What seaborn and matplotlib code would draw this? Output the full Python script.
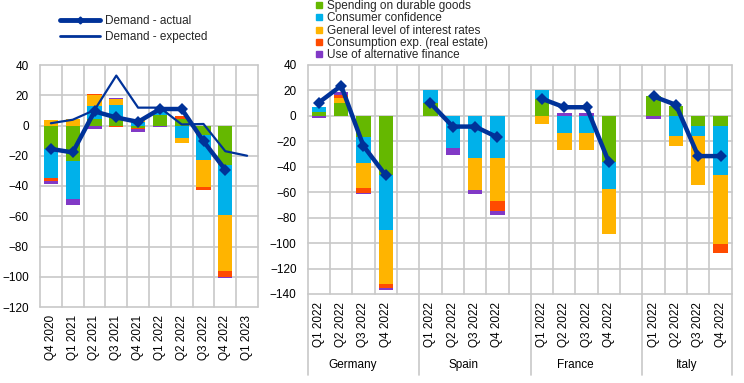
import numpy as np
import pandas as pd
import matplotlib
matplotlib.use("Agg")
import matplotlib.pyplot as plt
from matplotlib.lines import Line2D
import seaborn as sns

# ---------------- data ----------------
left_periods = ["Q4 2020", "Q1 2021", "Q2 2021", "Q3 2021", "Q4 2021",
                "Q1 2022", "Q2 2022", "Q3 2022", "Q4 2022", "Q1 2023"]
nan = np.nan
left_durable     = [-15.5, -23.3, 4.4, 4.8, -1.8, 7.0, 4.5, -6.0, -26.0, nan]
left_confidence  = [-19.5, -25.1, 8.3, 8.8, 2.5, 2.5, -8.0, -16.5, -33.5, nan]
left_interest    = [3.4, 4.4, 7.3, 4.0, 2.0, 0.0, -3.5, -18.0, -36.7, nan]
left_real_estate = [-2.0, 0.0, 1.1, -0.8, -0.8, 0.0, 1.5, -2.0, -4.0, nan]
left_alt_finance = [-1.4, -4.3, -2.4, 0.9, -1.6, -1.3, 0.0, -0.4, -0.5, nan]
left_actual      = [-15.5, -17.8, 9.3, 5.3, 2.4, 10.9, 10.9, -10.4, -29.3, nan]
left_expected    = [1.5, 3.8, 10.2, 33.0, 11.8, 11.8, 0.7, 1.0, -17.0, -20.0]

countries = ["Germany", "Spain", "France", "Italy"]
quarters = ["Q1 2022", "Q2 2022", "Q3 2022", "Q4 2022"]
cty_durable = {
    "Germany": [3.2, 10.0, -16.8, -46.6],
    "Spain":   [10.0, 0.0, 0.0, 0.0],
    "France":  [13.4, 0.0, 0.0, -36.0],
    "Italy":   [15.3, 7.6, -7.9, -7.9],
}
cty_confidence = {
    "Germany": [3.4, 0.0, -20.6, -43.4],
    "Spain":   [10.0, -25.5, -33.4, -33.4],
    "France":  [6.6, -13.7, -13.7, -21.6],
    "Italy":   [0.0, -15.8, -7.9, -38.7],
}
cty_interest = {
    "Germany": [0.0, 3.7, -19.6, -42.3],
    "Spain":   [0.0, 0.0, -25.0, -33.4],
    "France":  [-6.6, -13.1, -13.1, -35.6],
    "Italy":   [0.0, -7.6, -38.2, -54.4],
}
cty_real_estate = {
    "Germany": [0.0, 3.1, -3.5, -3.2],
    "Spain":   [0.0, 0.0, 0.0, -7.7],
    "France":  [0.0, 0.0, 0.0, 0.0],
    "Italy":   [0.0, 0.0, 0.0, -6.5],
}
cty_alt_finance = {
    "Germany": [-1.3, 2.2, -1.1, -1.3],
    "Spain":   [0.0, -5.3, -3.2, -3.4],
    "France":  [0.0, 2.1, 2.1, 0.0],
    "Italy":   [-2.6, 0.0, 0.0, 0.0],
}
cty_actual = {
    "Germany": [10.5, 23.7, -23.7, -46.8],
    "Spain":   [10.0, -8.4, -8.4, -16.8],
    "France":  [13.4, 6.8, 6.8, -36.6],
    "Italy":   [15.3, 8.7, -31.6, -31.6],
}

component_names = ["Spending on durable goods", "Consumer confidence",
                   "General level of interest rates",
                   "Consumption exp. (real estate)", "Use of alternative finance"]
component_colors = ["#65B800", "#00B1EA", "#FFB400", "#FF4B00", "#8139C6"]
line_color = "#003299"
grid_color = "#c8c8c8"

# ---------------- style ----------------
sns.set_theme(style="white")
plt.rcParams['font.family'] = ['Liberation Sans', 'DejaVu Sans']
FS = 8.5

fig = plt.figure(figsize=(7.44, 3.83), dpi=100)
axL = fig.add_axes([40 / 744, 1 - 307 / 383, 218 / 744, 242 / 383])
axR = fig.add_axes([307.7 / 744, 1 - 294 / 383, 424 / 744, 229 / 383])

BAR_W = 0.65


def stacked(ax, x, comps):
    x = np.asarray(x, dtype=float)
    pos = np.zeros(len(x))
    neg = np.zeros(len(x))
    for vals, col in zip(comps, component_colors):
        v = np.nan_to_num(np.asarray(vals, dtype=float))
        bottom = np.where(v >= 0, pos, neg)
        ax.bar(x, v, bottom=bottom, width=BAR_W, color=col, linewidth=0, zorder=2)
        pos = pos + np.where(v > 0, v, 0)
        neg = neg + np.where(v < 0, v, 0)


def grid_lines(ax, xbounds, yticks):
    for xb in xbounds:
        ax.axvline(xb, color=grid_color, lw=1.2, zorder=1, clip_on=False)
    for yt in yticks:
        ax.axhline(yt, color=grid_color, lw=1.2, zorder=1, clip_on=False)


# ---------------- left panel ----------------
xl = np.arange(len(left_periods))
stacked(axL, xl, [left_durable, left_confidence, left_interest,
                  left_real_estate, left_alt_finance])
dfl = pd.DataFrame({"x": xl, "actual": left_actual, "expected": left_expected})
sns.lineplot(data=dfl, x="x", y="expected", ax=axL, color=line_color, lw=1.6,
             zorder=3, sort=False)
sns.lineplot(data=dfl.dropna(), x="x", y="actual", ax=axL, color=line_color, lw=3.2,
             marker="D", markersize=6, markeredgewidth=0, zorder=4, sort=False)
axL.set_xlim(-0.5, len(left_periods) - 0.5)
axL.set_ylim(-120, 40)
yticks_l = np.arange(-120, 41, 20)
axL.set_yticks(yticks_l)
axL.set_xticks(xl)
axL.set_xticklabels(left_periods)
grid_lines(axL, np.arange(-0.5, len(left_periods), 1.0), yticks_l)

# ---------------- right panel ----------------
xr, labels_r = [], []
comps_r = [[], [], [], [], []]
for g, c in enumerate(countries):
    xs = [g * 5 + q for q in range(4)]
    xr += xs
    labels_r += quarters
    for k, d in enumerate([cty_durable, cty_confidence, cty_interest,
                           cty_real_estate, cty_alt_finance]):
        comps_r[k] += d[c]
    dfc = pd.DataFrame({"x": xs, "actual": cty_actual[c]})
    sns.lineplot(data=dfc, x="x", y="actual", ax=axR, color=line_color, lw=3.2,
                 marker="D", markersize=6, markeredgewidth=0, zorder=4, sort=False)
stacked(axR, xr, comps_r)
nslots = 5 * len(countries) - 1
axR.set_xlim(-0.5, nslots - 0.5)
axR.set_ylim(-140, 40)
yticks_r = np.arange(-140, 41, 20)
axR.set_yticks(yticks_r)
axR.set_xticks(xr)
axR.set_xticklabels(labels_r)
grid_lines(axR, np.arange(-0.5, nslots, 1.0), yticks_r)

trans = axR.get_xaxis_transform()
for g, c in enumerate(countries):
    axR.text(g * 5 + 1.5, -0.31, c, transform=trans, ha="center", va="center",
             fontsize=FS, color="black")
for xb in [-0.5, 4.5, 9.5, 14.5, nslots - 0.5]:
    axR.plot([xb, xb], [0, -0.355], transform=trans, clip_on=False,
             color=grid_color, lw=1.2)

for ax in (axL, axR):
    ax.set_xlabel("")
    ax.set_ylabel("")
    for s in ax.spines.values():
        s.set_visible(False)
    ax.grid(False)
    ax.tick_params(axis="x", which="major", length=0, pad=5.5, labelrotation=90,
                   labelsize=FS, labelcolor="black")
    ax.tick_params(axis="y", length=0, pad=8, labelsize=FS, labelcolor="black")

# ---------------- legends ----------------
lh = [Line2D([], [], color=line_color, lw=3.5, marker="D", markersize=3.5),
      Line2D([], [], color=line_color, lw=2.0)]
fig.legend(lh, ["Demand - actual", "Demand - expected"], loc="upper left",
           bbox_to_anchor=(60 / 744, 1 - 15 / 383), frameon=False, fontsize=FS,
           handlelength=3.4, handletextpad=0.4, labelspacing=0.35,
           borderpad=0, borderaxespad=0, numpoints=1)

ch = [Line2D([], [], color=col, marker="s", linestyle="none", markersize=5)
      for col in component_colors]
fig.legend(ch, component_names, loc="upper left",
           bbox_to_anchor=(315 / 744, 1 - 0 / 383), frameon=False, fontsize=FS,
           handlelength=0.7, handletextpad=0.35, labelspacing=0.03,
           borderpad=0, borderaxespad=0)

fig.savefig("out.png", dpi=100)
